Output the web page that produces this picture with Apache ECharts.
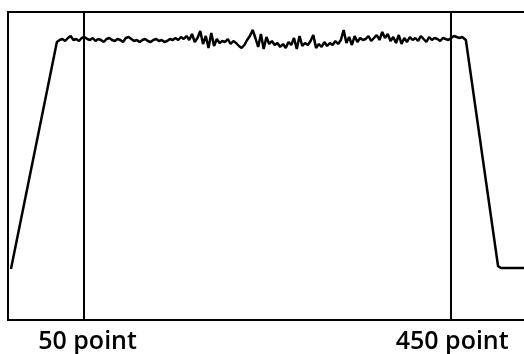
<!DOCTYPE html>
<html>
<head>
<meta charset="utf-8">
<script src="https://cdn.jsdelivr.net/npm/echarts@6/dist/echarts.min.js"></script>
<style>html,body{margin:0;padding:0;background:#fff}#c{width:524px;height:354px}</style>
</head>
<body>
<div id="c"></div>
<script>
// x positions (points) of the ramp-up section
const rampUpX = [-29, 21];
const rampUpY = [51, 278];
// plateau: points 24..462 every 3 points
const plateauX = [24,27,30,33,36,39,42,45,48,51,54,57,60,63,66,69,72,75,78,81,84,87,90,93,96,99,102,105,108,111,114,117,120,123,126,129,132,135,138,141,144,147,150,153,156,159,162,165,168,171,174,177,180,183,186,189,192,195,198,201,204,207,210,213,216,219,222,225,228,231,234,237,240,243,246,249,252,255,258,261,264,267,270,273,276,279,282,285,288,291,294,297,300,303,306,309,312,315,318,321,324,327,330,333,336,339,342,345,348,351,354,357,360,363,366,369,372,375,378,381,384,387,390,393,396,399,402,405,408,411,414,417,420,423,426,429,432,435,438,441,444,447,450,453,456,459,462];
const plateauY = [
280,281,279,282,284,280,281,279,282,
283,281,280,282,279,281,280,278,281,282,280,279,281,280,278,282,283,
281,279,280,278,280,281,279,278,280,281,279,280,278,279,281,280,282,
280,283,281,284,280,286,278,282,289,276,284,272,287,274,281,277,279,
278,281,276,279,277,274,272,275,280,284,290,282,273,286,271,283,276,
279,275,277,273,276,272,278,275,282,271,284,274,277,275,279,285,272,
276,273,278,274,277,275,279,276,280,290,277,283,275,284,278,282,280,
281,284,279,282,285,280,288,282,286,279,283,277,285,276,282,278,283,
280,282,279,284,281,278,283,280,282,281,279,282,281,280,282,284,283,282,283
];
// ramp-down and tail
const rampDownX = [466, 501, 504, 540];
const rampDownY = [280, 54, 52, 52];
// marker positions and their tick labels
const markerX = [50, 450];
const tickLabels = ['50 point', '450 point'];

const data = [];
rampUpX.forEach((x, i) => data.push([x, rampUpY[i]]));
plateauX.forEach((x, i) => data.push([x, plateauY[i]]));
rampDownX.forEach((x, i) => data.push([x, rampDownY[i]]));

const chart = echarts.init(document.getElementById('c'), null, {renderer: 'canvas'});
chart.setOption({
  animation: false,
  backgroundColor: '#fff',
  grid: {left: 8, top: 12, width: 520, height: 308, outerBoundsMode: 'none', containLabel: false,
         show: true, borderColor: '#000', borderWidth: 2, backgroundColor: 'transparent'},
  xAxis: {
    type: 'value', min: -32.2, max: 533.6,
    splitLine: {show: false},
    axisLine: {show: false},
    axisTick: {show: false},
    axisLabel: {
      show: true,
      customValues: markerX,
      hideOverlap: false,
      margin: 9,
      formatter: function (v) { const i = markerX.indexOf(v); return i === 0 ? '{a|' + tickLabels[0] + '}' : '{b|' + tickLabels[i] + '}'; },
      rich: {
        a: {fontFamily: 'Open Sans', fontSize: 25, fontWeight: 600, color: '#000', padding: [0, 0, 0, 8]},
        b: {fontFamily: 'Open Sans', fontSize: 25, fontWeight: 600, color: '#000', padding: [0, 0, 0, 2]}
      }
    }
  },
  yAxis: {
    type: 'value', min: 0, max: 308,
    axisLine: {show: false}, axisTick: {show: false}, axisLabel: {show: false}, splitLine: {show: false}
  },
  series: [{
    type: 'line',
    data: data,
    symbol: 'none',
    clip: true,
    lineStyle: {color: '#000', width: 2.5},
    markLine: {
      silent: true,
      symbol: 'none',
      label: {show: false},
      lineStyle: {color: '#000', width: 2, type: 'solid'},
      data: markerX.map(v => ({xAxis: v}))
    }
  }]
});
</script>
</body>
</html>
